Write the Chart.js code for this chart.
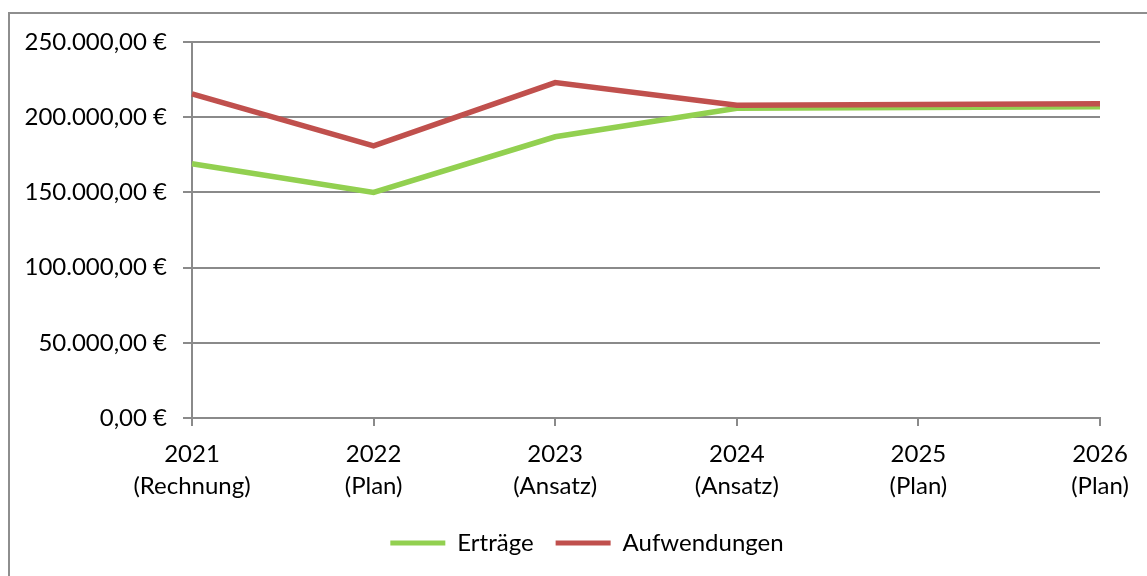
<!DOCTYPE html>
<html lang="de">
<head>
    <meta charset="UTF-8">
    <title>Erträge und Aufwendungen</title>
    <style>
        html, body {
            margin: 0;
            padding: 0;
            background: #ffffff;
            overflow: hidden;
        }
        .frame {
            position: absolute;
            left: 8px;
            top: 12px;
            width: 1200px;
            height: 620px;
            border: 2px solid #8e8e8e;
        }
        .chart-container {
            position: absolute;
            left: 0;
            top: 0;
            width: 1147px;
            height: 576px;
        }
    </style>
</head>
<body>
<div class="frame"></div>
<div class="chart-container">
    <canvas id="chart"></canvas>
</div>

<script src="https://cdn.jsdelivr.net/npm/chart.js@4.4.1/dist/chart.umd.min.js"></script>
<script>
    const years = ['2021', '2022', '2023', '2024', '2025', '2026'];
    const kinds = ['(Rechnung)', '(Plan)', '(Ansatz)', '(Ansatz)', '(Plan)', '(Plan)'];
    const ertraege = [169000, 150000, 187000, 206000, 206500, 207000];
    const aufwendungen = [215500, 181000, 223000, 208000, 208500, 209000];

    const colors = {
        green: '#92d050',
        red: '#c0504d',
        grid: '#8a8a8a'
    };

    function euro(value) {
        const parts = Math.round(value).toString().replace(/\B(?=(\d{3})+(?!\d))/g, '.');
        return parts + ',00 €';
    }

    const labels = years.map((y, i) => [y, kinds[i]]);
    const font = { family: 'Lato, "Open Sans", sans-serif', size: 24, lineHeight: 1.34 };

    // nudge the legend a bit to the right, the original centres it on the frame
    const shiftLegend = {
        id: 'shiftLegend',
        afterLayout(chart) {
            chart.legend.left += 27;
            chart.legend.right += 27;
        }
    };

    const ctx = document.getElementById('chart').getContext('2d');
    const chart = new Chart(ctx, {
        type: 'line',
        data: {
            labels: labels,
            datasets: [{
                label: 'Erträge',
                data: ertraege,
                borderColor: colors.green,
                backgroundColor: colors.green,
                borderWidth: 5.5,
                pointRadius: 0,
                tension: 0,
                fill: false,
                order: 2
            },
            {
                label: 'Aufwendungen',
                data: aufwendungen,
                borderColor: colors.red,
                backgroundColor: colors.red,
                borderWidth: 5.5,
                pointRadius: 0,
                tension: 0,
                fill: false,
                order: 1
            }]
        },
        plugins: [shiftLegend],
        options: {
            responsive: true,
            maintainAspectRatio: false,
            animation: false,
            layout: {
                padding: { left: 20, right: 47, top: 42, bottom: 11 }
            },
            plugins: {
                tooltip: { enabled: false },
                legend: {
                    position: 'bottom',
                    labels: {
                        color: '#000000',
                        font: { family: font.family, size: 24 },
                        boxWidth: 55,
                        boxHeight: 5,
                        padding: 22,
                        sort: (a, b) => a.datasetIndex - b.datasetIndex,
                        generateLabels: function(chart) {
                            return Chart.defaults.plugins.legend.labels.generateLabels(chart).map(item => {
                                item.lineWidth = 0;
                                return item;
                            });
                        }
                    }
                }
            },
            scales: {
                x: {
                    offset: false,
                    grid: {
                        drawOnChartArea: false,
                        color: colors.grid,
                        lineWidth: 2,
                        tickLength: 8
                    },
                    border: { color: colors.grid, width: 2 },
                    ticks: {
                        color: '#000000',
                        font: font,
                        padding: 12,
                        maxRotation: 0,
                        autoSkip: false
                    },
                    afterFit: function(scale) {
                        scale.height = 91;
                    }
                },
                y: {
                    min: 0,
                    max: 250000,
                    grid: {
                        color: colors.grid,
                        lineWidth: 2,
                        tickLength: 9
                    },
                    border: { color: colors.grid, width: 2 },
                    ticks: {
                        stepSize: 50000,
                        color: '#000000',
                        font: font,
                        padding: 16,
                        callback: function(value) {
                            return euro(value);
                        }
                    },
                    afterFit: function(scale) {
                        scale.width = 172;
                    }
                }
            }
        }
    });
</script>
</body>
</html>
